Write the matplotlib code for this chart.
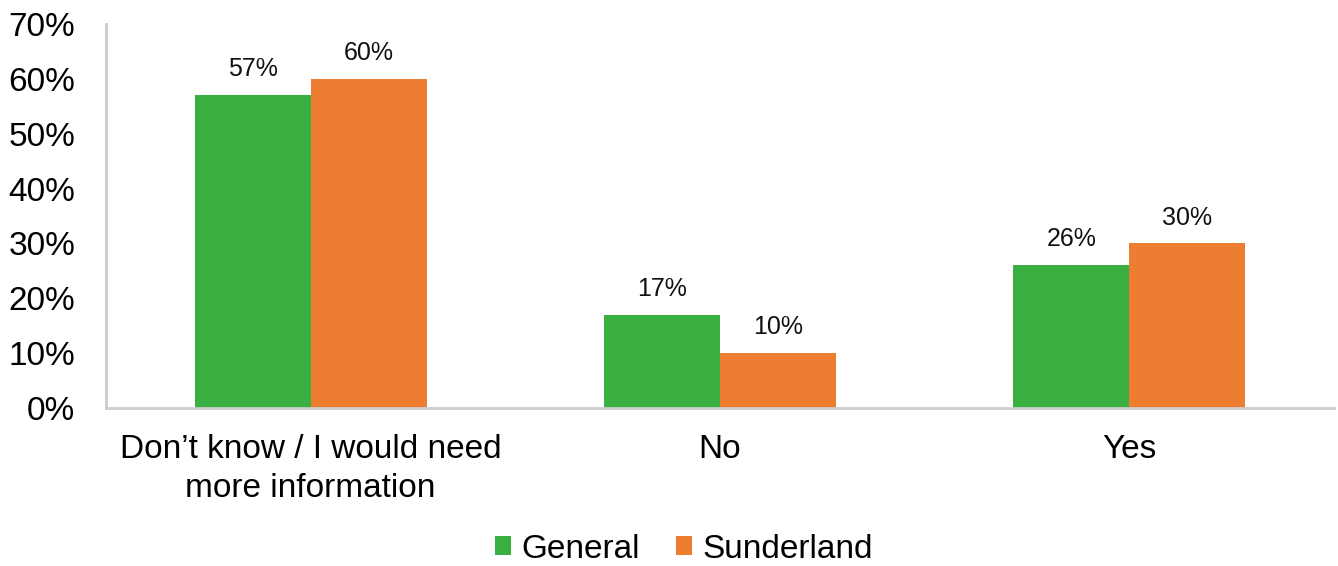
import matplotlib
matplotlib.use("Agg")
import matplotlib.pyplot as plt
import numpy as np

plt.rcParams['font.family'] = ['Liberation Sans', 'DejaVu Sans']

categories = ["Don\u2019t know / I would need\nmore information", "No", "Yes"]
series_names = ["General", "Sunderland"]
general = [57, 17, 26]
sunderland = [60, 10, 30]
y_ticks = [0, 10, 20, 30, 40, 50, 60, 70]

colors = ["#39B041", "#ED7D31"]

fig = plt.figure(figsize=(13.38, 5.66), dpi=100)
ax = fig.add_axes([106 / 1338, 1 - 408 / 566, (1334 - 106) / 1338, (408 - 24) / 566])

x = np.arange(len(categories))
w = 0.283
bars = []
for i, (vals, name) in enumerate(zip([general, sunderland], series_names)):
    b = ax.bar(x + (i - 0.5) * w, vals, width=w, color=colors[i], label=name, zorder=2)
    bars.append(b)
    for rect, v in zip(b, vals):
        ax.annotate(f"{v}%", (rect.get_x() + rect.get_width() / 2, v),
                    xytext=(0, 10), textcoords="offset points",
                    ha="center", va="bottom", fontsize=18, color="#111111")

ax.set_xlim(-0.5, 2.5)
ax.set_ylim(0, 70)
ax.set_yticks(y_ticks)
ax.set_yticklabels([f"{t}%" for t in y_ticks])
ax.set_xticks(x)
ax.set_xticklabels(categories, linespacing=1.3)
ax.tick_params(axis="y", length=0, pad=22, labelsize=24)
ax.tick_params(axis="x", length=0, pad=19, labelsize=24)

for s in ["top", "right"]:
    ax.spines[s].set_visible(False)
for s in ["left", "bottom"]:
    ax.spines[s].set_color("#cccccc")
    ax.spines[s].set_linewidth(2)
ax.spines["bottom"].set_zorder(3)

fig.legend(handles=bars, labels=series_names, loc="center", bbox_to_anchor=(684 / 1338, 1 - 549 / 566),
           ncol=2, frameon=False, fontsize=24, handlelength=0.48, handleheight=0.48,
           handletextpad=0.3, columnspacing=1.1)

fig.savefig("out.png", dpi=100)
